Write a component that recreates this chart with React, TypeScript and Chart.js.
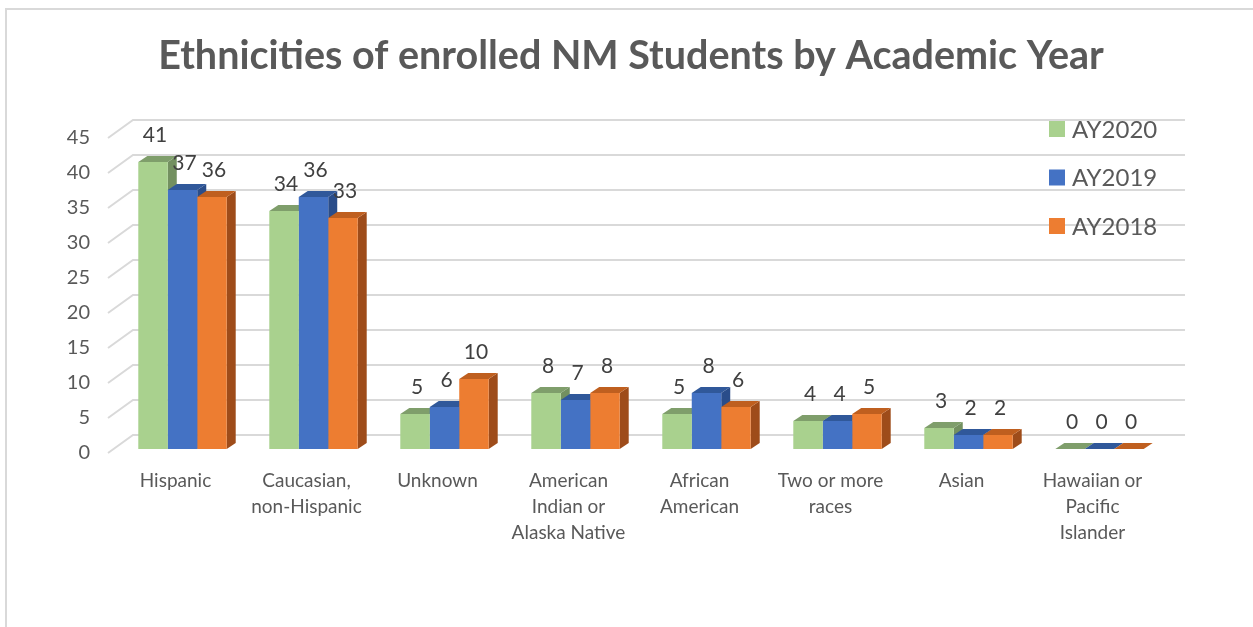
import React, { useEffect, useRef } from "react";
import { Chart, registerables } from "chart.js";

Chart.register(...registerables);

const titleText = "Ethnicities of enrolled NM Students by Academic Year";
const categories: string[][] = [
  ["Hispanic"],
  ["Caucasian,", "non-Hispanic"],
  ["Unknown"],
  ["American", "Indian or", "Alaska Native"],
  ["African", "American"],
  ["Two or more", "races"],
  ["Asian"],
  ["Hawaiian or", "Pacific", "Islander"],
];
const seriesNames = ["AY2020", "AY2019", "AY2018"];
const ay2020 = [41, 34, 5, 8, 5, 4, 3, 0];
const ay2019 = [37, 36, 6, 7, 8, 4, 2, 0];
const ay2018 = [36, 33, 10, 8, 6, 5, 2, 0];
const yMin = 0;
const yMax = 45;
const yStep = 5;

const frontColors = ["#a9d18e", "#4472c4", "#ed7d31"];
const topColors = ["#7f9e6b", "#30589a", "#bf5f1f"];
const sideColors = ["#739060", "#2a4d8a", "#9e4c1a"];

const FONT = "Lato, 'Open Sans', sans-serif";
const DX = 9;
const DY = 6;

const threeDPlugin = {
  id: "threeD",
  beforeDatasetsDraw(chart: any) {
    const ctx = chart.ctx as CanvasRenderingContext2D;
    const y = chart.scales.y;
    const area = chart.chartArea;
    // 3D back wall grid + side wall diagonals
    ctx.save();
    ctx.strokeStyle = "#d9d9d9";
    ctx.lineWidth = 2;
    for (const t of y.ticks) {
      const py = y.getPixelForValue(t.value);
      ctx.beginPath();
      ctx.moveTo(area.left - 9, py + 4);
      ctx.lineTo(area.left + 16, py - 14);
      ctx.lineTo(area.right + 20, py - 14);
      ctx.stroke();
    }
    ctx.restore();
    // top and side faces
    const n = chart.data.labels.length;
    ctx.save();
    for (let i = 0; i < n; i++) {
      chart.data.datasets.forEach((_: any, d: number) => {
        const meta = chart.getDatasetMeta(d);
        const el: any = meta.data[i];
        if (!el) return;
        const { x, y: top, base, width } = el.getProps(["x", "y", "base", "width"], true);
        const xl = x - width / 2;
        const xr = x + width / 2;
        ctx.fillStyle = sideColors[d];
        ctx.beginPath();
        ctx.moveTo(xr, top);
        ctx.lineTo(xr + DX, top - DY);
        ctx.lineTo(xr + DX, base - DY);
        ctx.lineTo(xr, base);
        ctx.closePath();
        ctx.fill();
        ctx.fillStyle = topColors[d];
        ctx.beginPath();
        ctx.moveTo(xl, top);
        ctx.lineTo(xl + DX, top - DY);
        ctx.lineTo(xr + DX, top - DY);
        ctx.lineTo(xr, top);
        ctx.closePath();
        ctx.fill();
      });
    }
    ctx.restore();
  },
  afterDatasetsDraw(chart: any) {
    const ctx = chart.ctx as CanvasRenderingContext2D;
    ctx.save();
    ctx.font = `21px ${FONT}`;
    ctx.fillStyle = "#404040";
    ctx.textAlign = "center";
    ctx.textBaseline = "middle";
    chart.data.datasets.forEach((ds: any, d: number) => {
      const meta = chart.getDatasetMeta(d);
      meta.data.forEach((el: any, i: number) => {
        ctx.fillText(String(ds.data[i]), el.x + 2, el.y - 27);
      });
    });
    ctx.restore();
  },
  afterDraw(chart: any) {
    const ctx = chart.ctx as CanvasRenderingContext2D;
    const area = chart.chartArea;
    ctx.save();
    // title
    ctx.font = `bold 39.5px ${FONT}`;
    ctx.fillStyle = "#595959";
    ctx.textAlign = "center";
    ctx.textBaseline = "middle";
    ctx.fillText(titleText, 631, 56);
    // legend
    ctx.font = `24px ${FONT}`;
    ctx.textBaseline = "middle";
    ctx.textAlign = "left";
    const lx = area.right - 116;
    chart.data.datasets.forEach((ds: any, d: number) => {
      const cy = area.top - 5 + d * 48.5;
      ctx.fillStyle = frontColors[d];
      ctx.fillRect(lx, cy - 8, 16, 16);
      ctx.fillStyle = "#595959";
      ctx.fillText(ds.label, lx + 23, cy + 1);
    });
    ctx.restore();
  },
};

export default function App() {
  const ref = useRef<HTMLCanvasElement | null>(null);
  useEffect(() => {
    if (!ref.current) return;
    const yTicks: number[] = [];
    for (let v = yMin; v <= yMax; v += yStep) yTicks.push(v);
    const chart = new Chart(ref.current, {
      type: "bar",
      data: {
        labels: categories,
        datasets: [ay2020, ay2019, ay2018].map((vals, d) => ({
          label: seriesNames[d],
          data: vals,
          backgroundColor: frontColors[d],
          borderWidth: 0,
          categoryPercentage: 0.675,
          barPercentage: 1,
        })),
      },
      options: {
        responsive: false,
        animation: false,
        devicePixelRatio: 1,
        layout: { padding: { left: 40, right: 88, top: 134, bottom: 0 } },
        plugins: {
          legend: { display: false },
          tooltip: { enabled: false },
          title: { display: false },
        },
        scales: {
          x: {
            grid: { display: false, drawTicks: false },
            border: { display: false },
            ticks: {
              color: "#595959",
              font: { family: FONT, size: 19, lineHeight: 1.37 },
              padding: 19,
              maxRotation: 0,
              autoSkip: false,
              labelOffset: -7,
            },
            afterFit(scale: any) {
              scale.height = 178;
            },
          },
          y: {
            min: yMin,
            max: yMax,
            grid: { display: false, drawTicks: false },
            border: { display: false },
            afterBuildTicks(scale: any) {
              scale.ticks = yTicks.map((v) => ({ value: v }));
            },
            ticks: {
              color: "#595959",
              font: { family: FONT, size: 20 },
              padding: 27,
              labelOffset: 4,
            },
            afterFit(scale: any) {
              scale.width = 77;
            },
          },
        },
      },
      plugins: [threeDPlugin],
    });
    return () => chart.destroy();
  }, []);

  return (
    <div style={{ position: "fixed", left: 0, top: 0, width: 1253, height: 627, overflow: "hidden", background: "#fff" }}>
      <div
        style={{
          position: "absolute",
          left: 5,
          top: 8,
          width: 1400,
          height: 800,
          border: "2px solid #d9d9d9",
          boxSizing: "border-box",
        }}
      />
      <canvas ref={ref} width={1253} height={627} style={{ position: "absolute", left: 0, top: 0 }} />
    </div>
  );
}
